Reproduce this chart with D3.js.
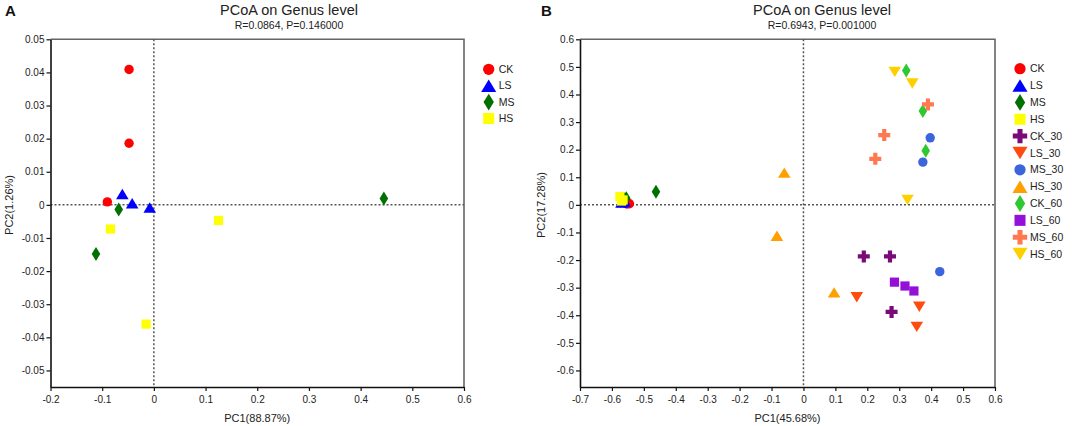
<!DOCTYPE html>
<html><head><meta charset="utf-8">
<script src="https://cdn.jsdelivr.net/npm/d3@7"></script>
<style>body{margin:0;background:#fff}svg{display:block;font-family:"Liberation Sans",Arial,sans-serif}</style>
</head><body><svg id="c" width="1084" height="426"></svg>
<script>
// ---------- Panel A data (PC1, PC2) ----------
const groupsA = ["CK","LS","MS","HS"];
const aCK = [[-0.048,0.0409],[-0.048,0.0186],[-0.090,0.0009]];
const aLS = [[-0.061,0.0033],[-0.042,0.0005],[-0.008,-0.0008]];
const aMS = [[0.445,0.0019],[-0.068,-0.0014],[-0.112,-0.0148]];
const aHS = [[-0.084,-0.0073],[0.125,-0.0047],[-0.015,-0.0360]];
const xTicksA = [-0.2,-0.1,0,0.1,0.2,0.3,0.4,0.5,0.6];
const yTicksA = [0.05,0.04,0.03,0.02,0.01,0,-0.01,-0.02,-0.03,-0.04,-0.05];

// ---------- Panel B data ----------
const groupsB = ["CK","LS","MS","HS","CK_30","LS_30","MS_30","HS_30","CK_60","LS_60","MS_60","HS_60"];
const bCK = [[-0.545,0.004],[-0.550,0.006],[-0.553,0.003]];
const bLS = [[-0.565,0.010],[-0.560,0.012],[-0.570,0.008]];
const bMS = [[-0.560,0.020],[-0.555,0.024],[-0.462,0.048]];
const bHS = [[-0.575,0.030],[-0.565,0.018],[-0.570,0.014]];
const bCK30 = [[0.189,-0.187],[0.271,-0.187],[0.276,-0.388]];
const bLS30 = [[0.167,-0.335],[0.363,-0.369],[0.355,-0.442]];
const bMS30 = [[0.397,0.243],[0.374,0.155],[0.427,-0.242]];
const bHS30 = [[-0.060,0.117],[-0.083,-0.112],[0.096,-0.317]];
const bCK60 = [[0.322,0.487],[0.374,0.340],[0.383,0.196]];
const bLS60 = [[0.285,-0.280],[0.318,-0.294],[0.346,-0.312]];
const bMS60 = [[0.390,0.364],[0.253,0.253],[0.225,0.167]];
const bHS60 = [[0.286,0.482],[0.341,0.440],[0.326,0.018]];
const xTicksB = [-0.7,-0.6,-0.5,-0.4,-0.3,-0.2,-0.1,0,0.1,0.2,0.3,0.4,0.5,0.6];
const yTicksB = [0.6,0.5,0.4,0.3,0.2,0.1,0,-0.1,-0.2,-0.3,-0.4,-0.5,-0.6];

const shapeOf = {CK:"circle",LS:"triUp",MS:"diamond",HS:"square",CK_30:"cross",LS_30:"triDown",MS_30:"circle",HS_30:"triUp",CK_60:"diamond",LS_60:"square",MS_60:"cross",HS_60:"triDown"};
const colorA = {CK:"#ff0000",LS:"#0000ff",MS:"#007000",HS:"#ffff00"};
const colorB = {CK:"#ff0000",LS:"#0000ff",MS:"#007000",HS:"#ffff00",CK_30:"#7a0a78",LS_30:"#ff4a10",MS_30:"#3c64dc",HS_30:"#ffa000",CK_60:"#30c830",LS_60:"#9410d8",MS_60:"#ff7850",HS_60:"#ffd000"};

function shapePath(t, s){
  const k = s;
  switch(t){
    case "circle": return d3.symbol(d3.symbolCircle, Math.PI*(4.7*k)*(4.7*k))();
    case "triUp": { const w=6.3*k,h=5.2*k; return `M0,${-h}L${w},${h}L${-w},${h}Z`; }
    case "triDown": { const w=6.3*k,h=5.2*k; return `M0,${h}L${w},${-h}L${-w},${-h}Z`; }
    case "diamond": { const w=4.3*k,h=7*k; return `M0,${-h}L${w},0L0,${h}L${-w},0Z`; }
    case "square": { const a=4.6*k; return `M${-a},${-a}H${a}V${a}H${-a}Z`; }
    case "cross": { const a=6*k,b=2.1*k; return `M${-b},${-a}H${b}V${-b}H${a}V${b}H${b}V${a}H${-b}V${b}H${-a}V${-b}H${-b}Z`; }
  }
}
function fmt(v){ return String(+v.toFixed(2)); }

const svg = d3.select("#c");

function panel(cfg){
  const g = svg.append("g");
  const x = d3.scaleLinear().domain(cfg.xd).range([cfg.l, cfg.r]);
  const y = d3.scaleLinear().domain(cfg.yd).range([cfg.b, cfg.t]);
  // frame top/right
  g.append("path").attr("d",`M${cfg.l},${cfg.t}H${cfg.r}V${cfg.b}`).attr("fill","none").attr("stroke","#666").attr("stroke-width",1.6);
  // zero lines
  g.append("line").attr("x1",x(0)).attr("x2",x(0)).attr("y1",cfg.t).attr("y2",cfg.b).attr("stroke","#555").attr("stroke-width",1.5).attr("stroke-dasharray","2,2");
  g.append("line").attr("x1",cfg.l).attr("x2",cfg.r).attr("y1",y(0)).attr("y2",y(0)).attr("stroke","#555").attr("stroke-width",1.5).attr("stroke-dasharray","2,2");
  // axes
  const ax = g.append("g").attr("transform",`translate(0,${cfg.b})`).call(d3.axisBottom(x).tickValues(cfg.xt).tickFormat(fmt).tickSize(4).tickSizeOuter(0));
  const ay = g.append("g").attr("transform",`translate(${cfg.l},0)`).call(d3.axisLeft(y).tickValues(cfg.yt).tickFormat(fmt).tickSize(4).tickSizeOuter(0));
  [ax,ay].forEach(a=>{
    a.select(".domain").attr("stroke","#111").attr("stroke-width",1.6);
    a.selectAll(".tick line").attr("stroke","#111").attr("stroke-width",1.2);
    a.selectAll(".tick text").attr("fill","#222").style("font-size","10px").style("font-family","Liberation Sans, Arial, sans-serif");
  });
  ax.selectAll(".tick text").attr("dy","0.95em").attr("y",6);
  ay.selectAll(".tick text").attr("x",-6);
  // titles
  g.append("text").attr("x",cfg.tx).attr("y",15).attr("text-anchor","middle").attr("fill","#222").style("font-size","14.5px").text("PCoA on Genus level");
  g.append("text").attr("x",cfg.tx).attr("y",29).attr("text-anchor","middle").attr("fill","#222").style("font-size","10.5px").text(cfg.sub);
  g.append("text").attr("x",cfg.lx).attr("y",16).attr("fill","#111").style("font-size","15px").style("font-weight","bold").text(cfg.letter);
  g.append("text").attr("x",(cfg.l+cfg.r)/2).attr("y",422).attr("text-anchor","middle").attr("fill","#222").style("font-size","11px").text(cfg.xl);
  g.append("text").attr("transform",`translate(${cfg.yx},205) rotate(-90)`).attr("text-anchor","middle").attr("dy","0.35em").attr("fill","#222").style("font-size","11px").text(cfg.yl);
  // points
  cfg.groups.forEach((name,i)=>{
    const pts = cfg.data[i];
    g.selectAll(null).data(pts).enter().append("path")
      .attr("d", shapePath(shapeOf[name],1))
      .attr("transform", d=>`translate(${x(d[0])},${y(d[1])})`)
      .attr("fill", cfg.colors[name]);
  });
  // legend
  cfg.groups.forEach((name,i)=>{
    const yy = cfg.legY + i*cfg.legStep;
    g.append("path").attr("d", shapePath(shapeOf[name],1.2)).attr("transform",`translate(${cfg.legX},${yy})`).attr("fill",cfg.colors[name]);
    g.append("text").attr("x",cfg.legX+10).attr("y",yy).attr("dy","0.35em").attr("fill","#222").style("font-size","10.5px").text(name);
  });
}

panel({l:50.5,r:464,t:39.3,b:387,xd:[-0.2,0.6],yd:[-0.055,0.05],xt:xTicksA,yt:yTicksA,
  tx:289,lx:5,letter:"A",sub:"R=0.0864, P=0.146000",xl:"PC1(88.87%)",yl:"PC2(1.26%)",yx:9,
  groups:groupsA,data:[aCK,aLS,aMS,aHS],colors:colorA,legX:488.7,legY:69.3,legStep:16.4});
panel({l:580,r:995,t:39.3,b:387,xd:[-0.7,0.6],yd:[-0.66,0.6],xt:xTicksB,yt:yTicksB,
  tx:822,lx:541,letter:"B",sub:"R=0.6943, P=0.001000",xl:"PC1(45.68%)",yl:"PC2(17.28%)",yx:541,
  groups:groupsB,data:[bCK,bLS,bMS,bHS,bCK30,bLS30,bMS30,bHS30,bCK60,bLS60,bMS60,bHS60],colors:colorB,legX:1020,legY:68.7,legStep:16.85});
</script></body></html>
